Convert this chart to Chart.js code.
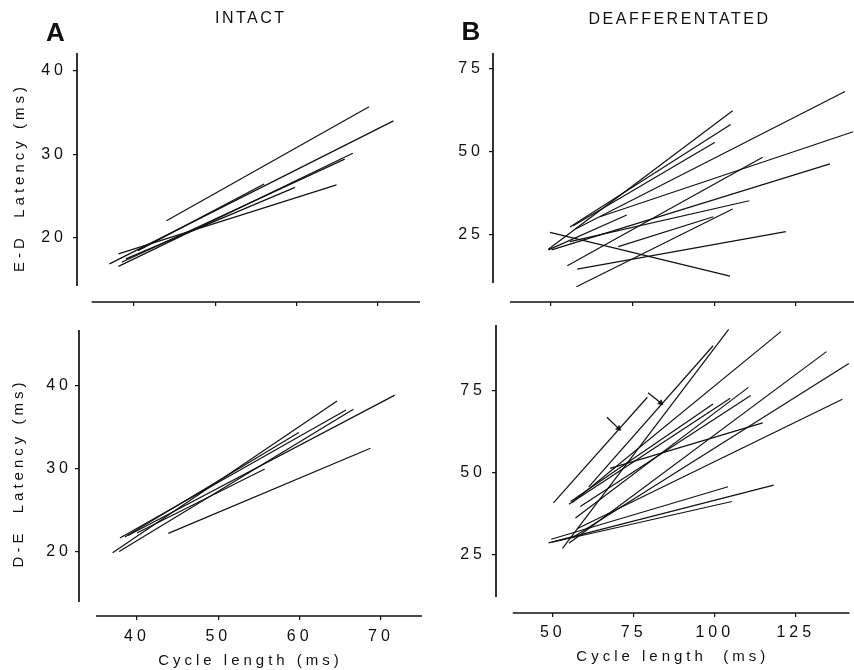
<!DOCTYPE html>
<html><head><meta charset="utf-8">
<script src="https://cdn.jsdelivr.net/npm/chart.js@4.4.1/dist/chart.umd.min.js"></script>
<style>
html,body{margin:0;padding:0;background:#fff;}
#wrap{position:relative;width:854px;height:670px;overflow:hidden;background:#fff;}
canvas{position:absolute;left:0;top:0;}
.lbl{position:absolute;font-family:"Liberation Sans",Arial,Helvetica,sans-serif;color:#111;white-space:nowrap;}
.big{font-size:26px;line-height:26px;font-weight:bold;}
.head{font-size:16px;line-height:16px;letter-spacing:2.5px;}
</style></head><body>
<div id="wrap">
<canvas id="c1" width="854" height="670"></canvas>
<canvas id="c2" width="854" height="670"></canvas>
<canvas id="c3" width="854" height="670"></canvas>
<canvas id="c4" width="854" height="670"></canvas>
<div class="lbl big" style="left:46px;top:18.6px">A</div>
<div class="lbl big" style="left:461.5px;top:18.3px">B</div>
<div class="lbl head" style="left:215px;top:9.6px">INTACT</div>
<div class="lbl head" style="left:588.5px;top:11.2px">DEAFFERENTATED</div>
</div>
<script>
// ---- tick values ----
const intactTicksX = [40, 50, 60, 70];
const intactTicksY = [20, 30, 40];
const deaffTicksX = [50, 75, 100, 125];
const deaffTicksY = [25, 50, 75];

// ---- regression segments [cycle start, latency start, cycle end, latency end] ----
const intactED = [
  [44.0, 22.0, 68.9, 35.7],
  [37.0, 16.8, 71.9, 34.0],
  [38.1, 16.5, 66.9, 30.1],
  [38.5, 17.0, 65.9, 29.4],
  [39.0, 17.4, 59.8, 26.0],
  [40.5, 18.4, 56.0, 26.4],
  [38.1, 18.0, 64.9, 26.3]
];
const intactDE = [
  [37.0, 19.9, 64.6, 38.2],
  [37.8, 20.05, 66.6, 37.2],
  [37.9, 21.7, 65.7, 37.1],
  [38.9, 22.0, 71.7, 38.9],
  [38.5, 21.8, 59.9, 34.4],
  [40.0, 22.3, 55.7, 30.0],
  [43.85, 22.25, 68.7, 32.5]
];
const deaffED = [
  [49.2, 20.5, 105.6, 62.2],
  [55.8, 27.2, 105.0, 58.1],
  [56.8, 27.6, 100.2, 52.7],
  [57.5, 26.6, 140.0, 68.0],
  [65.0, 30.3, 142.5, 55.9],
  [55.0, 15.5, 114.8, 48.2],
  [50.2, 20.3, 135.4, 46.2],
  [55.8, 22.8, 110.7, 35.1],
  [57.8, 9.2, 105.6, 32.6],
  [70.6, 21.3, 99.7, 30.3],
  [58.0, 14.5, 121.9, 25.8],
  [49.7, 25.6, 104.8, 12.4],
  [49.2, 20.3, 73.2, 30.8]
];
const deaffDE = [
  [53.0, 27.0, 104.3, 93.8],
  [61.1, 45.8, 99.5, 88.8],
  [56.0, 41.0, 120.4, 93.1],
  [55.0, 28.6, 134.5, 87.0],
  [56.5, 30.6, 141.4, 83.4],
  [57.5, 33.0, 139.4, 72.5],
  [57.0, 36.3, 110.4, 76.1],
  [58.5, 39.8, 111.1, 73.6],
  [55.0, 40.5, 104.8, 72.8],
  [55.5, 41.3, 99.5, 71.0],
  [67.7, 51.4, 114.8, 65.3],
  [49.5, 29.8, 104.1, 45.8],
  [48.7, 28.7, 118.2, 46.3],
  [49.8, 28.9, 105.3, 41.3],
  [50.2, 40.9, 79.2, 73.1]
];
// arrows marking two units in the deafferentated D-E panel
const deaffDEArrows = [
  [66.7, 67.0, 70.3, 63.6],
  [79.4, 74.5, 83.3, 71.4]
];

const FONT = '"Liberation Sans", Arial, Helvetica, sans-serif';
const INK = '#111';

const spacingPlugin = {
  id: 'spacing',
  beforeLayout(chart) { chart.ctx.letterSpacing = '4px'; },
  beforeDraw(chart) { chart.ctx.letterSpacing = '4px'; }
};
const axisLines = {
  id: 'axisLines',
  afterDraw(chart, args, opts) {
    const {ctx, chartArea, scales: {x, y}} = chart;
    ctx.save();
    ctx.strokeStyle = INK;
    ctx.lineWidth = 1.7;
    ctx.beginPath();
    ctx.moveTo(chartArea.left, y.getPixelForValue(y.max));
    ctx.lineTo(chartArea.left, y.getPixelForValue(opts.yEnd));
    ctx.moveTo(x.getPixelForValue(opts.xStart), chartArea.bottom);
    ctx.lineTo(x.getPixelForValue(x.max), chartArea.bottom);
    ctx.stroke();
    ctx.restore();
  }
};

function segSets(segs) {
  return segs.map(s => ({
    data: [{x: s[0], y: s[1]}, {x: s[2], y: s[3]}],
    showLine: true, borderColor: INK, borderWidth: 1.2,
    pointRadius: 0, fill: false
  }));
}
function arrowSets(arrs) {
  return arrs.map(s => ({
    data: [{x: s[0], y: s[1]}, {x: s[2], y: s[3]}],
    showLine: true, borderColor: INK, borderWidth: 1.3,
    pointRadius: [0, 3.2], pointStyle: 'triangle', pointRotation: 133,
    pointBackgroundColor: INK, pointBorderColor: INK, pointBorderWidth: 0.5, fill: false
  }));
}

function panel(id, datasets, c) {
  new Chart(document.getElementById(id), {
    type: 'scatter',
    data: {datasets},
    plugins: [spacingPlugin, axisLines],
    options: {
      responsive: false, animation: false, devicePixelRatio: 1,
      layout: {padding: c.pad},
      plugins: {legend: {display: false}, tooltip: {enabled: false},
                axisLines: {xStart: c.xStart, yEnd: c.yEnd}},
      scales: {
        x: {
          type: 'linear', min: c.xMin, max: c.xMax,
          afterBuildTicks: s => { s.ticks = c.xTicks.map(v => ({value: v})); },
          afterFit: s => { s.height = c.xH; },
          border: {display: false},
          grid: {display: true, drawOnChartArea: false, drawTicks: true, tickLength: 4, color: INK, lineWidth: 1.2},
          ticks: {display: c.xLabels, padding: c.xTickPad, color: INK, font: {family: FONT, size: 16}, maxRotation: 0, autoSkip: false},
          title: {display: !!c.xTitle, text: c.xTitle || '', color: INK, font: {family: FONT, size: 15}, padding: {top: 0, bottom: c.xTitlePad || 0}}
        },
        y: {
          type: 'linear', min: c.yMin, max: c.yMax,
          afterBuildTicks: s => { s.ticks = c.yTicks.map(v => ({value: v})); },
          afterFit: s => { s.width = c.yW; },
          border: {display: false},
          grid: {display: true, drawOnChartArea: false, drawTicks: true, tickLength: 4, color: INK, lineWidth: 1.2},
          ticks: {padding: c.yTickPad, color: INK, font: {family: FONT, size: 16}, autoSkip: false},
          title: {display: !!c.yTitle, text: c.yTitle || '', color: INK, font: {family: FONT, size: 15}, padding: {top: 0, bottom: 0}}
        }
      }
    }
  });
}

panel('c1', segSets(intactED), {
  pad: {left: 11, top: 53, right: 434, bottom: 338}, yW: 66, xH: 30,
  xMin: 33.0, xMax: 75.16, yMin: 12.22, yMax: 42.16, xStart: 34.8, yEnd: 14.14,
  xTicks: intactTicksX, yTicks: intactTicksY, xLabels: false, xTickPad: 7, yTickPad: 6,
  yTitle: 'E-D  Latency (ms)'
});
panel('c2', segSets(intactDE), {
  pad: {left: 10, top: 330, right: 432, bottom: 0}, yW: 69, xH: 54,
  xMin: 32.87, xMax: 75.04, yMin: 12.29, yMax: 46.75, xStart: 34.96, yEnd: 13.98,
  xTicks: intactTicksX, yTicks: intactTicksY, xLabels: true, xTickPad: 7, yTickPad: 3,
  yTitle: 'D-E  Latency (ms)', xTitle: 'Cycle length (ms)', xTitlePad: 0
});
panel('c3', segSets(deaffED), {
  pad: {left: 453, top: 53, right: 0, bottom: 338}, yW: 40, xH: 30,
  xMin: 32.25, xMax: 142.75, yMin: 4.61, yMax: 79.6, xStart: 37.45, yEnd: 10.33,
  xTicks: deaffTicksX, yTicks: deaffTicksY, xLabels: false, xTickPad: 7, yTickPad: 5
});
panel('c4', segSets(deaffDE).concat(arrowSets(deaffDEArrows)), {
  pad: {left: 456, top: 325, right: 0, bottom: 0}, yW: 40, xH: 57,
  xMin: 32.47, xMax: 141.6, yMin: 7.32, yMax: 95.12, xStart: 37.65, yEnd: 12.2,
  xTicks: deaffTicksX, yTicks: deaffTicksY, xLabels: true, xTickPad: 6, yTickPad: 6,
  xTitle: 'Cycle length  (ms)', xTitlePad: 4
});
</script>
</body></html>
